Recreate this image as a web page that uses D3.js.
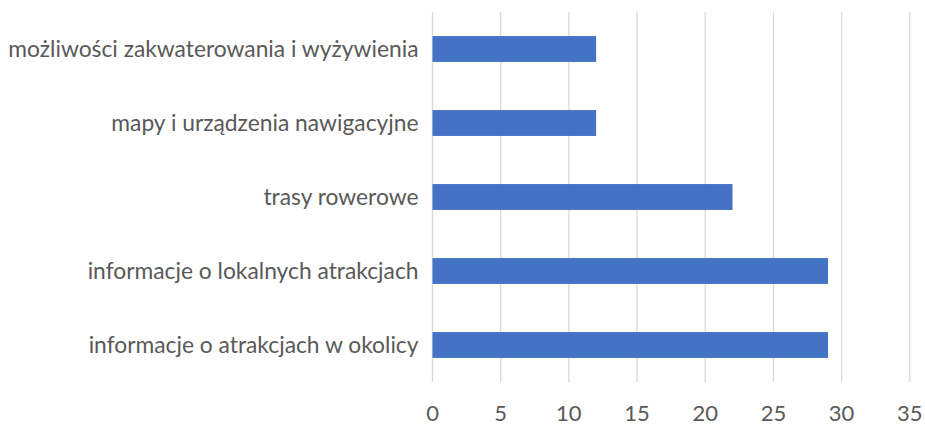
<!DOCTYPE html>
<html>
<head>
<meta charset="utf-8">
<script src="https://cdn.jsdelivr.net/npm/d3@7"></script>
<style>
  body { margin: 0; background: #fff; }
  svg text { font-family: "Lato", "Open Sans", sans-serif; fill: #595959; }
</style>
</head>
<body>
<svg id="chart" width="925" height="425"></svg>
<script>
  var categories = [
    "możliwości zakwaterowania i wyżywienia",
    "mapy i urządzenia nawigacyjne",
    "trasy rowerowe",
    "informacje o lokalnych atrakcjach",
    "informacje o atrakcjach w okolicy"
  ];
  var values = [12, 12, 22, 29, 29];
  var xTicks = [0, 5, 10, 15, 20, 25, 30, 35];

  var margin = { top: 12, right: 15, bottom: 43, left: 432.5 };
  var height = 425 - margin.top - margin.bottom;

  var svg = d3.select("#chart");
  var g = svg.append("g")
    .attr("transform", "translate(" + margin.left + "," + margin.top + ")");

  var x = d3.scaleLinear().domain([0, 35]).range([0, 477.3]);
  var y = d3.scaleBand().domain(categories).range([0, height]).paddingInner(0.65).paddingOuter(0.325);

  // linie siatki
  g.selectAll(".grid")
    .data(xTicks)
    .enter()
    .append("line")
    .attr("x1", function (d) { return x(d); })
    .attr("x2", function (d) { return x(d); })
    .attr("y1", 0)
    .attr("y2", height)
    .attr("stroke", "#d9d9d9")
    .attr("stroke-width", 1.3);

  // slupki
  g.selectAll(".bar")
    .data(values)
    .enter()
    .append("rect")
    .attr("x", x(0))
    .attr("y", function (d, i) { return y(categories[i]); })
    .attr("width", function (d) { return x(d) - x(0); })
    .attr("height", y.bandwidth())
    .attr("fill", "#4472c4");

  // etykiety kategorii
  g.selectAll(".cat")
    .data(categories)
    .enter()
    .append("text")
    .attr("x", -14)
    .attr("y", function (d) { return y(d) + y.bandwidth() / 2; })
    .attr("dy", "0.35em")
    .attr("text-anchor", "end")
    .style("font-size", "22.8px")
    .text(function (d) { return d; });

  // etykiety osi x
  g.selectAll(".tick")
    .data(xTicks)
    .enter()
    .append("text")
    .attr("x", function (d) { return x(d); })
    .attr("y", height + 31)
    .attr("dy", "0.35em")
    .attr("text-anchor", "middle")
    .style("font-size", "22px")
    .text(function (d) { return d; });
</script>
</body>
</html>
